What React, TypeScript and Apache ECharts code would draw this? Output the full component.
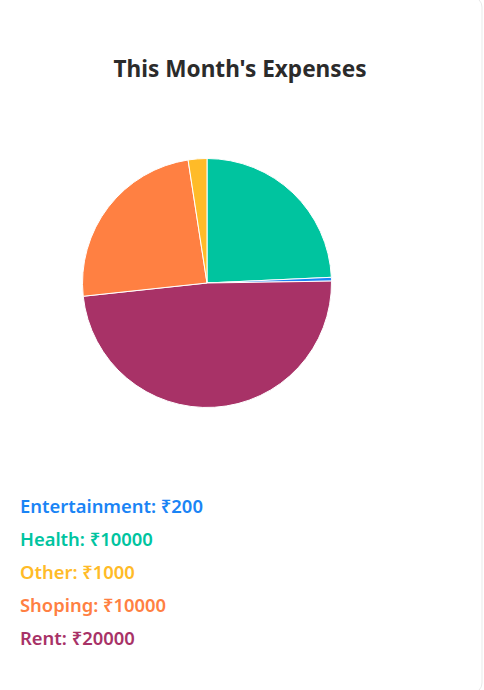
import React, { useEffect, useRef } from "react";
import * as echarts from "echarts";

const legendOrder = ["Entertainment", "Health", "Other", "Shoping", "Rent"];
const legendValues = [200, 10000, 1000, 10000, 20000];
const legendColors = ["#1a84f5", "#00c49f", "#ffbb28", "#ff8042", "#a83267"];
// order of slices clockwise from 12 o'clock
const sliceOrder = ["Health", "Entertainment", "Rent", "Shoping", "Other"];

export default function App() {
  const ref = useRef<HTMLDivElement>(null);
  useEffect(() => {
    if (!ref.current) return;
    const chart = echarts.init(ref.current, undefined, { renderer: "svg" });
    const font = "'Noto Sans', 'DejaVu Sans', sans-serif";
    const pieData = sliceOrder.map((n) => {
      const i = legendOrder.indexOf(n);
      return { name: n, value: legendValues[i], itemStyle: { color: legendColors[i] } };
    });
    chart.setOption({
      animation: false,
      backgroundColor: "#ffffff",
      title: {
        text: "This Month's Expenses",
        left: 235,
        top: 52,
        textAlign: "center",
        textStyle: { fontFamily: font, fontSize: 22.6, fontWeight: "bold", color: "#2b2b2b" },
      },
      graphic: [
        {
          type: "rect",
          silent: true,
          z: -10,
          shape: { x: -20, y: -3, width: 502, height: 696, r: 10 },
          style: { fill: "#ffffff", stroke: "#e9e9e9", lineWidth: 1 },
        },
        ...legendOrder.map((n, i) => ({
          type: "text",
          left: 20,
          top: 496 + i * 33,
          style: {
            text: `${n}: ₹${legendValues[i]}`,
            fill: legendColors[i],
            font: `600 18.4px ${font}`,
          },
        })),
      ],
      series: [
        {
          type: "pie",
          center: [207, 283],
          radius: [0, 124.5],
          startAngle: 90,
          clockwise: true,
          label: { show: false },
          labelLine: { show: false },
          itemStyle: { borderColor: "#ffffff", borderWidth: 1 },
          emphasis: { scale: false },
          data: pieData,
        },
      ],
    });
    return () => chart.dispose();
  }, []);
  return (
    <div
      ref={ref}
      style={{ position: "fixed", left: 0, top: 0, width: 484, height: 690 }}
    />
  );
}
